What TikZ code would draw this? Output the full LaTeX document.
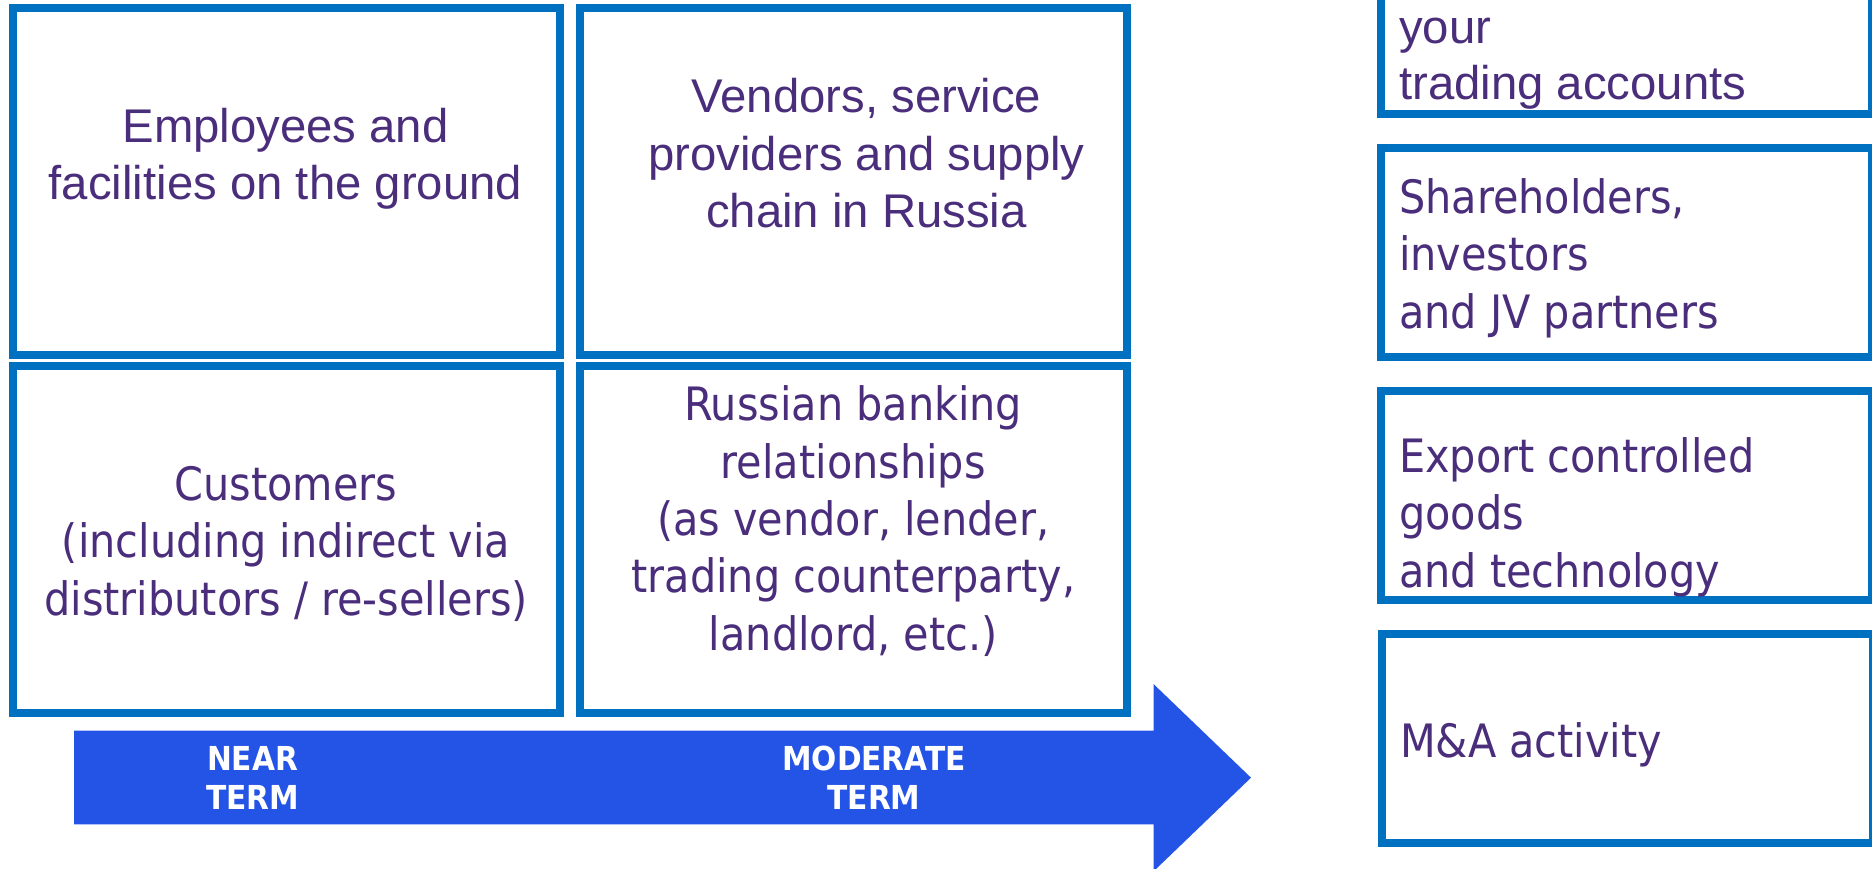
\documentclass[tikz,border=0pt]{standalone}
\usepackage{fontspec}
\setmainfont{Liberation Sans}
\newfontfamily\arialf{Liberation Sans}
\newfontfamily\tahomaf{DejaVu Sans Condensed}
\definecolor{boxblue}{RGB}{0,112,192}
\definecolor{arrowblue}{RGB}{35,84,230}
\definecolor{textpurple}{RGB}{74,46,124}
\begin{document}
\begin{tikzpicture}[x=1pt,y=-1pt,
  cell/.style={draw=boxblue, line width=8pt, fill=white, rectangle, inner sep=0pt, outer sep=0pt},
  gridcell/.style={cell, minimum width=547.2pt},
  sidecell/.style={cell, minimum width=491.2pt, minimum height=208.7pt},
  arialtext/.style={text=textpurple, inner sep=0pt, font=\arialf\fontsize{47.3}{57.5}\selectfont},
  tahomatext/.style={text=textpurple, inner sep=0pt, font=\tahomaf\fontsize{46}{57.4}\selectfont},
  termlabel/.style={text=white, inner sep=0pt, align=center, anchor=base, font=\tahomaf\bfseries\fontsize{33}{39}\selectfont}
]
\useasboundingbox (0,0) rectangle (1872,869);
\clip (0,0) rectangle (1872,869);

% four cells of the main grid
\node[gridcell, minimum height=346.5pt] (employees) at (286.1,181.55) {};
\node[gridcell, minimum height=346.5pt] (vendors)   at (853.6,181.55) {};
\node[gridcell, minimum height=347.1pt] (customers) at (286.1,539.25) {};
\node[gridcell, minimum height=347.1pt] (banking)   at (853.6,539.25) {};

% column of further exposures on the right
\node[sidecell] (accounts) at (1626.1,9.95) {};
\node[sidecell] (holders)  at (1626.1,252.65) {};
\node[sidecell] (export)   at (1626.1,495.5) {};
\node[sidecell] (mna)      at (1627.6,738.35) {};

% time arrow
\fill[arrowblue] (74,730.7) -- (1153.5,730.7) -- (1153.5,684) -- (1251,777.7)
  -- (1153.5,871.4) -- (1153.5,824.3) -- (74,824.3) -- cycle;

% texts of the grid cells (placed by the baseline of their last line)
\node[arialtext, align=center, anchor=base] (employeesT) at (285.5,200)
  {Employees and\\facilities on the ground};
\node[arialtext, align=center, anchor=base] (vendorsT) at (866.5,227.7)
  {Vendors, service\\providers and supply\\chain in Russia};
\node[tahomatext, align=center, anchor=base] (customersT) at (286,615)
  {Customers\\(including indirect via\\distributors / re-sellers)};
\node[tahomatext, align=center, anchor=base] (bankingT) at (853.3,650.3)
  {Russian banking\\relationships\\(as vendor, lender,\\trading counterparty,\\landlord, etc.)};

% texts of the right column
\node[arialtext, align=left, anchor=base west, font=\arialf\fontsize{47.3}{56}\selectfont] (accountsT) at (1399,99.3)
  {your\\trading accounts};
\node[tahomatext, align=left, anchor=base west] (holdersT) at (1399,328.3)
  {Shareholders,\\investors\\and JV partners};
\node[tahomatext, align=left, anchor=base west] (exportT) at (1399,587.3)
  {Export controlled\\goods\\and technology};
\node[tahomatext, align=left, anchor=base west] (mnaT) at (1400,757.7)
  {M\&A activity};

% labels on the arrow
\node[termlabel] (near) at (252.5,809) {NEAR\\TERM};
\node[termlabel] (moderate) at (874,809) {MODERATE\\TERM};
\end{tikzpicture}
\end{document}
